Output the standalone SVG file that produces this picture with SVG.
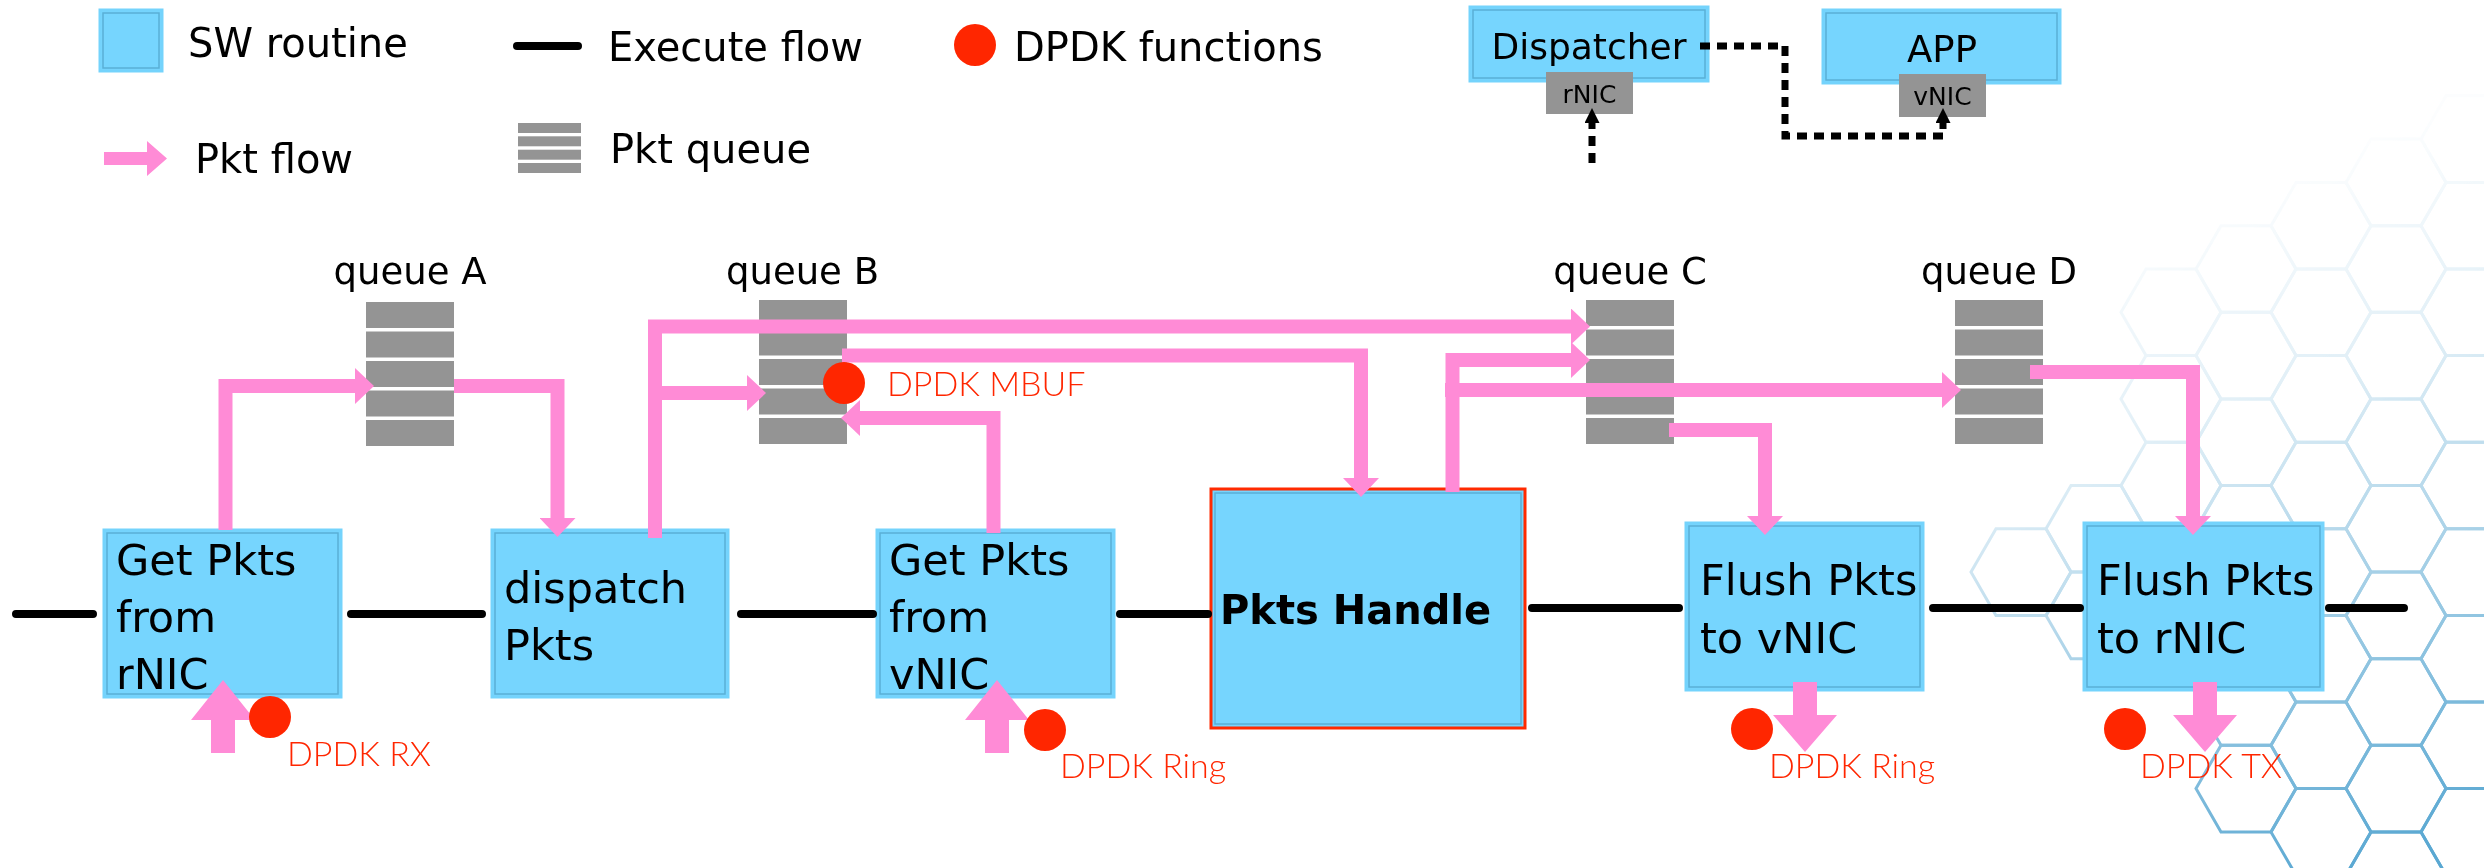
<svg xmlns="http://www.w3.org/2000/svg" xmlns:xlink="http://www.w3.org/1999/xlink" width="2484" height="868" viewBox="0 0 2484 868">
  <style>
    .bo { fill: #76D5FE; stroke: #74D3FC; stroke-width: 3; }
    .bi { fill: none; stroke: #5AAFD6; stroke-width: 1.5; }
    .qb { fill: #949494; }
    .pink { fill: none; stroke: #FF8BD6; stroke-width: 14; stroke-linejoin: miter; }
    .pfill { fill: #FF8BD6; }
    .exec { fill: none; stroke: #000; stroke-width: 8; stroke-linecap: round; }
    .dash { fill: none; stroke: #000; stroke-width: 7; stroke-dasharray: 10 7; }
    .dot { fill: #FF2600; }
    .t { font-family: "DejaVu Sans", "Liberation Sans", sans-serif; fill: #000; }
    .leg { font-size: 40px; }
    .bt { font-size: 43px; }
    .ql { font-size: 37px; text-anchor: middle; }
    .r { font-family: Lato, "DejaVu Sans", sans-serif; font-weight: 300; fill: #FF2600; font-size: 34px; }
    .hex { fill: none; stroke: #5AA8D2; stroke-width: 3; }
  </style>
  <defs>
    <path id="hex" d="M50,0 L25,43.3 L-25,43.3 L-50,0 L-25,-43.3 L25,-43.3 Z"/>
    <g id="qstack">
      <rect class="qb" x="0" y="0" width="88" height="26"/>
      <rect class="qb" x="0" y="29.5" width="88" height="26"/>
      <rect class="qb" x="0" y="59" width="88" height="26"/>
      <rect class="qb" x="0" y="88.5" width="88" height="26"/>
      <rect class="qb" x="0" y="118" width="88" height="26"/>
    </g>
    <marker id="ph" markerUnits="userSpaceOnUse" markerWidth="19" markerHeight="36" viewBox="0 0 19 36" refX="1" refY="18" orient="auto">
      <path d="M0,0 L19,18 L0,36 Z" fill="#FF8BD6"/>
    </marker>
    <marker id="bh" markerUnits="userSpaceOnUse" markerWidth="15" markerHeight="15" viewBox="0 0 15 15" refX="1" refY="7.5" orient="auto">
      <path d="M0,0 L15,7.5 L0,15 Z" fill="#000"/>
    </marker>
    <linearGradient id="fadeGrad" gradientUnits="userSpaceOnUse" x1="2150" y1="220" x2="2380" y2="860">
      <stop offset="0" stop-color="#fff" stop-opacity="0.02"/>
      <stop offset="0.3" stop-color="#fff" stop-opacity="0.18"/>
      <stop offset="0.65" stop-color="#fff" stop-opacity="0.6"/>
      <stop offset="1" stop-color="#fff" stop-opacity="1"/>
    </linearGradient>
    <mask id="hexFade" maskUnits="userSpaceOnUse" x="1900" y="0" width="584" height="868">
      <rect x="1900" y="0" width="584" height="868" fill="url(#fadeGrad)"/>
    </mask>
  </defs>

  <rect width="2484" height="868" fill="#fff"/>

  <!-- honeycomb backdrop, fading towards the upper left -->
  <g id="honeycomb" class="hex" mask="url(#hexFade)">
    <use href="#hex" x="2021" y="572.1"/>
    <use href="#hex" x="2096" y="528.8"/>
    <use href="#hex" x="2096" y="615.4"/>
    <use href="#hex" x="2171" y="312.3"/>
    <use href="#hex" x="2171" y="398.9"/>
    <use href="#hex" x="2171" y="485.5"/>
    <use href="#hex" x="2171" y="572.1"/>
    <use href="#hex" x="2246" y="269.0"/>
    <use href="#hex" x="2246" y="355.6"/>
    <use href="#hex" x="2246" y="442.2"/>
    <use href="#hex" x="2246" y="528.8"/>
    <use href="#hex" x="2246" y="615.4"/>
    <use href="#hex" x="2246" y="702.0"/>
    <use href="#hex" x="2246" y="788.6"/>
    <use href="#hex" x="2321" y="225.7"/>
    <use href="#hex" x="2321" y="312.3"/>
    <use href="#hex" x="2321" y="398.9"/>
    <use href="#hex" x="2321" y="485.5"/>
    <use href="#hex" x="2321" y="572.1"/>
    <use href="#hex" x="2321" y="658.7"/>
    <use href="#hex" x="2321" y="745.3"/>
    <use href="#hex" x="2321" y="831.9"/>
    <use href="#hex" x="2396" y="182.4"/>
    <use href="#hex" x="2396" y="269.0"/>
    <use href="#hex" x="2396" y="355.6"/>
    <use href="#hex" x="2396" y="442.2"/>
    <use href="#hex" x="2396" y="528.8"/>
    <use href="#hex" x="2396" y="615.4"/>
    <use href="#hex" x="2396" y="702.0"/>
    <use href="#hex" x="2396" y="788.6"/>
    <use href="#hex" x="2396" y="875.2"/>
    <use href="#hex" x="2471" y="139.1"/>
    <use href="#hex" x="2471" y="225.7"/>
    <use href="#hex" x="2471" y="312.3"/>
    <use href="#hex" x="2471" y="398.9"/>
    <use href="#hex" x="2471" y="485.5"/>
    <use href="#hex" x="2471" y="572.1"/>
    <use href="#hex" x="2471" y="658.7"/>
    <use href="#hex" x="2471" y="745.3"/>
    <use href="#hex" x="2471" y="831.9"/>
  </g>

  <!-- legend -->
  <g id="legend">
    <rect class="bo" x="100" y="10" width="62" height="61"/>
    <rect class="bi" x="103" y="13" width="56" height="55"/>
    <text class="t leg" x="188" y="57">SW routine</text>
    <line class="exec" x1="517" y1="46" x2="578" y2="46"/>
    <text class="t leg" x="608" y="61">Execute flow</text>
    <circle class="dot" cx="975" cy="45" r="21"/>
    <text class="t leg" x="1014" y="61">DPDK functions</text>
    <polygon class="pfill" points="104,152 147,152 147,141 167,158.5 147,176 147,165 104,165"/>
    <text class="t leg" x="195" y="173">Pkt flow</text>
    <rect class="qb" x="518" y="123" width="63" height="10"/>
    <rect class="qb" x="518" y="136.3" width="63" height="10"/>
    <rect class="qb" x="518" y="149.7" width="63" height="10"/>
    <rect class="qb" x="518" y="163" width="63" height="10"/>
    <text class="t leg" x="610" y="163">Pkt queue</text>
  </g>

  <!-- dispatcher / app overview -->
  <g id="dispatcher">
    <rect class="bo" x="1470" y="7" width="238" height="74"/>
    <rect class="bi" x="1473" y="10" width="232" height="68"/>
    <text class="t" x="1589" y="59" font-size="36" text-anchor="middle">Dispatcher</text>
    <rect class="qb" x="1546" y="72" width="87" height="42"/>
    <text class="t" x="1589.5" y="103" font-size="25" text-anchor="middle">rNIC</text>
  </g>
  <g id="app">
    <rect class="bo" x="1823" y="10" width="237" height="73"/>
    <rect class="bi" x="1826" y="13" width="231" height="67"/>
    <text class="t" x="1942" y="62" font-size="37" text-anchor="middle">APP</text>
    <rect class="qb" x="1899" y="74" width="87" height="43"/>
    <text class="t" x="1942.5" y="105" font-size="25" text-anchor="middle">vNIC</text>
  </g>

  <!-- packet queues -->
  <g id="queueA">
    <text class="t ql" x="410" y="284">queue A</text>
    <use href="#qstack" x="366" y="302"/>
  </g>
  <g id="queueB">
    <text class="t ql" x="802.5" y="284">queue B</text>
    <use href="#qstack" x="759" y="300"/>
  </g>
  <g id="queueC">
    <text class="t ql" x="1630" y="284">queue C</text>
    <use href="#qstack" x="1586" y="300"/>
  </g>
  <g id="queueD">
    <text class="t ql" x="1999" y="284">queue D</text>
    <use href="#qstack" x="1955" y="300"/>
  </g>

  <!-- software routines -->
  <g id="getRnic">
    <rect class="bo" x="104" y="530" width="237" height="167"/>
    <rect class="bi" x="107" y="533" width="231" height="161"/>
    <text class="t bt" x="116" y="575">Get Pkts</text>
    <text class="t bt" x="116" y="632">from</text>
    <text class="t bt" x="116" y="689">rNIC</text>
  </g>
  <g id="dispatchPkts">
    <rect class="bo" x="492" y="530" width="236" height="167"/>
    <rect class="bi" x="495" y="533" width="230" height="161"/>
    <text class="t bt" x="504" y="603">dispatch</text>
    <text class="t bt" x="504" y="660">Pkts</text>
  </g>
  <g id="getVnic">
    <rect class="bo" x="877" y="530" width="237" height="167"/>
    <rect class="bi" x="880" y="533" width="231" height="161"/>
    <text class="t bt" x="889" y="575">Get Pkts</text>
    <text class="t bt" x="889" y="632">from</text>
    <text class="t bt" x="889" y="689">vNIC</text>
  </g>
  <g id="pktsHandle">
    <rect x="1211" y="489" width="314" height="239" fill="#76D5FE" stroke="#FF2A00" stroke-width="3"/>
    <rect class="bi" x="1215" y="493" width="306" height="231"/>
    <text class="t" x="1220" y="624" font-size="40" font-weight="bold">Pkts Handle</text>
  </g>
  <g id="flushVnic">
    <rect class="bo" x="1686" y="523" width="237" height="167"/>
    <rect class="bi" x="1689" y="526" width="231" height="161"/>
    <text class="t bt" x="1700" y="595">Flush Pkts</text>
    <text class="t bt" x="1700" y="653">to vNIC</text>
  </g>
  <g id="flushRnic">
    <rect class="bo" x="2084" y="523" width="239" height="167"/>
    <rect class="bi" x="2087" y="526" width="233" height="161"/>
    <text class="t bt" x="2097" y="595">Flush Pkts</text>
    <text class="t bt" x="2097" y="653">to rNIC</text>
  </g>

  <!-- connectors: execute flow, packet flow, overview links -->
  <g id="connectors">
    <path class="exec" d="M16,614 H93 M351,614 H482 M741,614 H873 M1120,614 H1208 M1532,608 H1679 M1933,608 H2080 M2329,608 H2404"/>

    <path class="pink" marker-end="url(#ph)" d="M225.5,530 V386 H356"/>
    <path class="pink" marker-end="url(#ph)" d="M454,386 H557.5 V519"/>
    <path class="pink" marker-end="url(#ph)" d="M655,538 V326.5 H1572"/>
    <path class="pink" marker-end="url(#ph)" d="M648,393 H748"/>
    <path class="pink" marker-end="url(#ph)" d="M842,355.5 H1361 V479"/>
    <path class="pink" marker-end="url(#ph)" d="M993.5,533 V418 H859"/>
    <path class="pink" marker-end="url(#ph)" d="M1452.5,492 V360 H1572"/>
    <path class="pink" marker-end="url(#ph)" d="M1445,390 H1943"/>
    <path class="pink" marker-end="url(#ph)" d="M1669,430 H1765 V517"/>
    <path class="pink" marker-end="url(#ph)" d="M2030,372 H2193 V517"/>

    <polygon class="pfill" points="211,753 235,753 235,720 255,720 223,680 191,720 211,720"/>
    <polygon class="pfill" points="985,753 1009,753 1009,720 1029,720 997,680 965,720 985,720"/>
    <polygon class="pfill" points="1793,682 1817,682 1817,715 1837,715 1805,752 1773,715 1793,715"/>
    <polygon class="pfill" points="2193,682 2217,682 2217,715 2237,715 2205,752 2173,715 2193,715"/>

    <path class="dash" marker-end="url(#bh)" d="M1700,46 H1785 V136 H1943 V122"/>
    <path class="dash" marker-end="url(#bh)" d="M1592,163 V122"/>
  </g>

  <!-- DPDK function markers -->
  <g id="dpdkMbuf">
    <circle class="dot" cx="844" cy="383" r="21"/>
    <text class="r" x="887" y="396">DPDK MBUF</text>
  </g>
  <g id="dpdkRx">
    <circle class="dot" cx="270" cy="717" r="21"/>
    <text class="r" x="287" y="766">DPDK RX</text>
  </g>
  <g id="dpdkRingIn">
    <circle class="dot" cx="1045" cy="730" r="21"/>
    <text class="r" x="1060" y="778">DPDK Ring</text>
  </g>
  <g id="dpdkRingOut">
    <circle class="dot" cx="1752" cy="729" r="21"/>
    <text class="r" x="1769" y="778">DPDK Ring</text>
  </g>
  <g id="dpdkTx">
    <circle class="dot" cx="2125" cy="729" r="21"/>
    <text class="r" x="2140" y="778">DPDK TX</text>
  </g>
</svg>
